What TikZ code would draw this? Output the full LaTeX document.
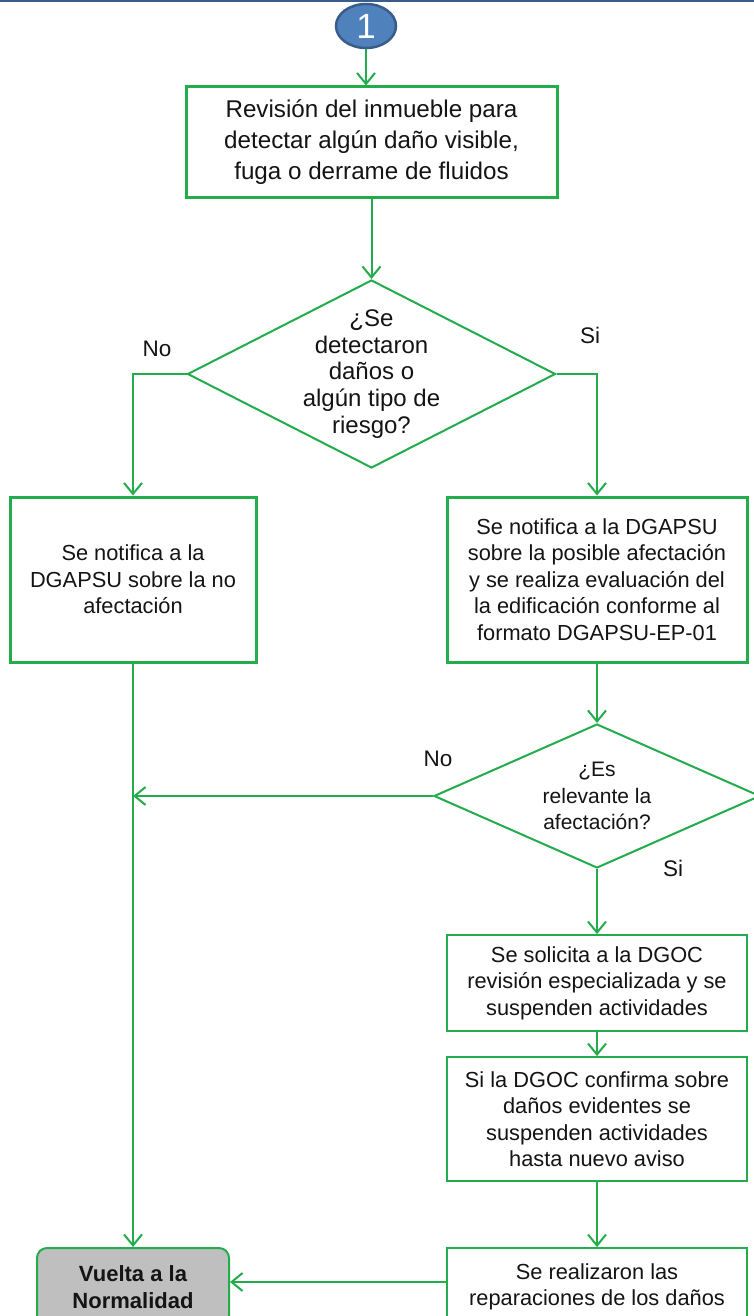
\documentclass[tikz,border=0pt]{standalone}
\usepackage{fontspec}
\setmainfont{Liberation Sans}
\usetikzlibrary{shapes.geometric,arrows.meta,shadows}
\definecolor{fgreen}{RGB}{34,172,76}
\definecolor{cblue}{RGB}{79,129,189}
\definecolor{cdark}{RGB}{56,93,138}
\definecolor{vgray}{RGB}{191,191,191}
\definecolor{txt}{RGB}{20,20,20}
\begin{document}
\begin{tikzpicture}[x=1pt,y=-1pt,
  arr/.style={draw=fgreen,line width=2pt,-{Straight Barb[length=11pt,width=18pt,line width=2pt]}},
  thickbox/.style={draw=fgreen,line width=3pt,fill=white,inner sep=0pt,align=center,text=txt,
     drop shadow={opacity=0.25,shadow xshift=2pt,shadow yshift=-2pt}},
  thinbox/.style={draw=fgreen,line width=1.8pt,fill=white,inner sep=0pt,align=center,text=txt},
  body/.style={font=\fontsize{21.8}{26.5}\selectfont},
  dia/.style={diamond,draw=fgreen,line width=2pt,inner sep=0pt,fill=white},
  lab/.style={font=\fontsize{22.5}{24}\selectfont,text=txt}
]
\useasboundingbox (0,0) rectangle (754,1316);
\clip (0,0) rectangle (754,1316);
\draw[cdark,line width=2.5pt] (0,1) -- (754,1);

\node[ellipse,fill=cblue,draw=cdark,line width=2.5pt,minimum width=60pt,minimum height=44pt,inner sep=0pt,
      text=white,font=\fontsize{35}{35}\selectfont] (c1) at (366,26) {1};

\node[thickbox,minimum width=371pt,minimum height=110pt,font=\fontsize{24.2}{31}\selectfont] (box1) at (371.5,142)
  {Revisión del inmueble para\\detectar algún daño visible,\\fuga o derrame de fluidos};

\node[dia,minimum width=368pt,minimum height=188pt] (d1) at (371.5,374) {};
\node[font=\fontsize{24}{26.7}\selectfont,align=center,text=txt] (d1t) at (d1.center)
  {¿Se\\detectaron\\daños o\\algún tipo de\\riesgo?};

\node[thickbox,body,minimum width=246pt,minimum height=165pt] (box2) at (133,579.5)
  {Se notifica a la\\DGAPSU sobre la no\\afectación};
\node[thickbox,body,minimum width=300pt,minimum height=165pt] (box3) at (597,579.5)
  {Se notifica a la DGAPSU\\sobre la posible afectación\\y se realiza evaluación del\\la edificación conforme al\\formato DGAPSU-EP-01};

\node[dia,minimum width=326pt,minimum height=144pt] (d2) at (597,796) {};
\node[font=\fontsize{21}{26.5}\selectfont,align=center,text=txt] (d2t) at (d2.center) {¿Es\\relevante la\\afectación?};

\node[thinbox,body,minimum width=300pt,minimum height=96pt] (box4) at (597,983)
  {Se solicita a la DGOC\\revisión especializada y se\\suspenden actividades};
\node[thinbox,body,minimum width=300pt,minimum height=124pt] (box5) at (597,1119)
  {Si la DGOC confirma sobre\\daños evidentes se\\suspenden actividades\\hasta nuevo aviso};
\node[thinbox,body,minimum width=300pt,minimum height=78pt] (box6) at (597,1287)
  {Se realizaron las\\reparaciones de los daños};
\node[draw=fgreen,line width=2pt,fill=vgray,rounded corners=10pt,inner sep=0pt,align=center,text=txt,
      minimum width=192pt,minimum height=78pt,font=\bfseries\fontsize{22}{27}\selectfont] (vuelta) at (133,1287)
  {Vuelta a la\\Normalidad};

\node[lab] (no1) at (157,349) {No};
\node[lab] (si1) at (590,335) {Si};
\node[lab] (no2) at (438,759) {No};
\node[lab] (si2) at (673,868) {Si};

\draw[arr] (c1.south) -- (c1.south |- box1.north);
\draw[arr] (box1.south) -- (d1.north);
\draw[arr] (d1.west) -| (box2.north);
\draw[arr] (d1.east) -| (box3.north);
\draw[arr] (box3.south) -- (d2.north);
\coordinate (m2) at (d2.west -| box2.south);
\draw[arr] (d2.west) -- (m2);
\draw[arr] (box2.south) -- (vuelta.north);
\draw[arr] (d2.south) -- (box4.north);
\draw[arr] (box4.south) -- (box5.north);
\draw[arr] (box5.south) -- (box6.north);
\draw[arr] ([yshift=5pt]box6.west) -- ([yshift=5pt]vuelta.east);
\end{tikzpicture}
\end{document}
